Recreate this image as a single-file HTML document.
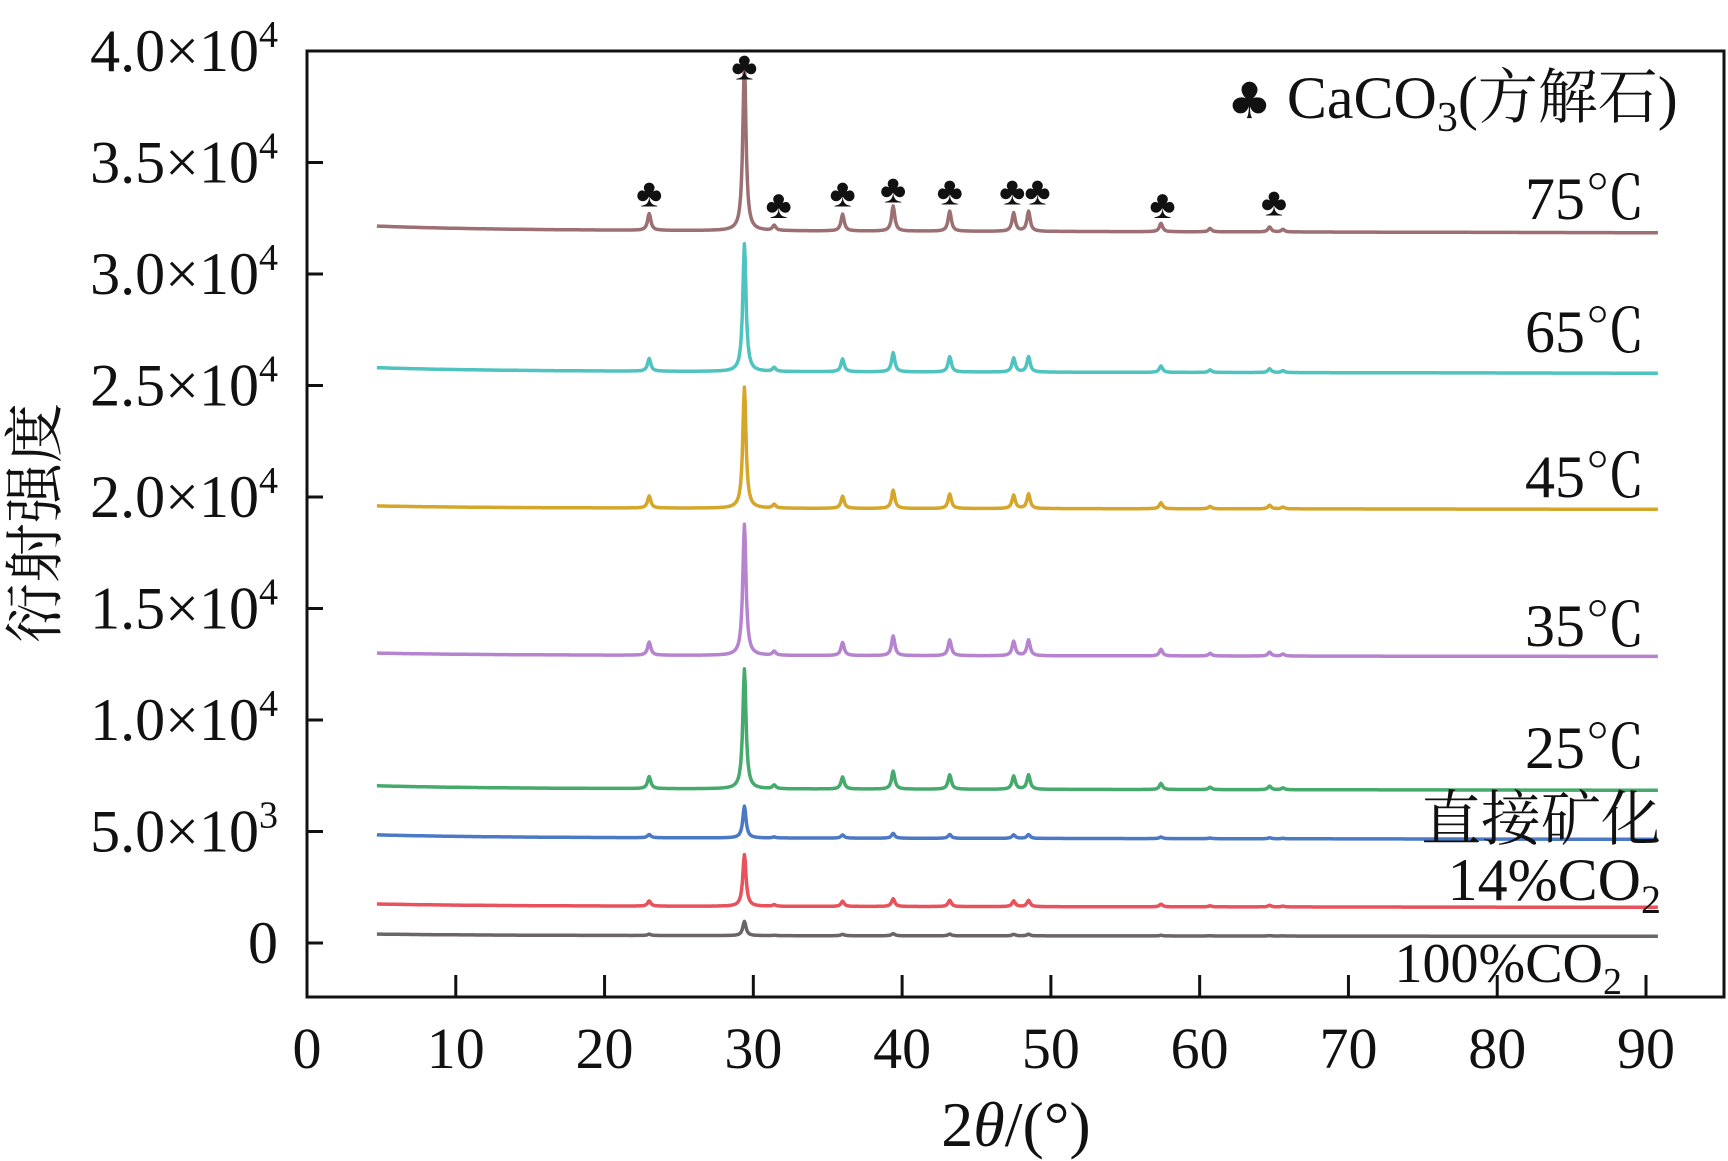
<!DOCTYPE html>
<html><head><meta charset="utf-8"><style>
body{margin:0;background:#fff;}
svg{display:block;}
text{font-family:"Liberation Serif","Noto Serif CJK SC",serif;fill:#111;}
</style></head><body>
<svg id="chart" width="1728" height="1161" viewBox="0 0 1728 1161" xmlns="http://www.w3.org/2000/svg">
<g id="axes"></g>
<g id="series"></g>
<g id="labels"></g>
</svg>
<script>
// ---- data ----
const seriesNames = ["75℃","65℃","45℃","35℃","25℃","直接矿化","14%CO2","100%CO2"];
const seriesColors = ["#9c6f72","#4ec3c0","#d6a62a","#b683cf","#45aa6c","#4c79c6","#e8525c","#6a6666"];
const baseStart = [32150,25800,19600,13000,7050,4850,1750,400];
const baseEnd = [31850,25550,19450,12850,6850,4650,1600,300];
const mainPeak = [7500,5730,5430,5880,5380,1430,2320,640];
const peakPos = [23.0,29.4,31.4,36.0,39.4,43.2,47.5,48.5,57.4,60.7,64.7,65.6];
const peakRel = [0.10,1.0,0.03,0.10,0.15,0.12,0.11,0.12,0.05,0.02,0.03,0.015];
const clubPos = [23.0,29.4,31.7,36.0,39.4,43.2,47.4,49.1,57.5,65.0];
const clubVal = [33600,39300,33100,33600,33800,33700,33700,33700,33100,33200];
const xTicks = [0,10,20,30,40,50,60,70,80,90];
const yTicks = [0,5000,10000,15000,20000,25000,30000,35000,40000];
const yTickLabels = ["0","5.0×10<tspan dy='-24' font-size='38'>3</tspan>","1.0×10<tspan dy='-24' font-size='38'>4</tspan>","1.5×10<tspan dy='-24' font-size='38'>4</tspan>","2.0×10<tspan dy='-24' font-size='38'>4</tspan>","2.5×10<tspan dy='-24' font-size='38'>4</tspan>","3.0×10<tspan dy='-24' font-size='38'>4</tspan>","3.5×10<tspan dy='-24' font-size='38'>4</tspan>","4.0×10<tspan dy='-24' font-size='38'>4</tspan>"];
// ---- scales ----
const L=307,T=51,R=1724,B=997;
const X=v=>307+v*(1646-307)/90;
const Y=v=>943-v*(943-51)/40000;
const NS="http://www.w3.org/2000/svg";
function mk(tag,attrs,parent){const e=document.createElementNS(NS,tag);for(const k in attrs)e.setAttribute(k,attrs[k]);parent.appendChild(e);return e;}
const axes=document.getElementById('axes'),sg=document.getElementById('series'),lg=document.getElementById('labels');
const frame=mk('rect',{x:L,y:T,width:R-L,height:B-T,fill:'none',stroke:'#111','stroke-width':3},axes);

xTicks.forEach(t=>{
  const l=mk('line',{x1:X(t),x2:X(t),y1:B,y2:B-22,stroke:'#111','stroke-width':3},axes);
  
  const tx=mk('text',{x:X(t),y:1068,'text-anchor':'middle','font-size':58},axes);tx.textContent=t;
  
});
yTicks.forEach((t,i)=>{
  const l=mk('line',{x1:L,x2:L+16,y1:Y(t),y2:Y(t),stroke:'#111','stroke-width':3},axes);
  
  const tx=mk('text',{x:278,y:Y(t)+20,'text-anchor':'end','font-size':60},axes);tx.innerHTML=yTickLabels[i];
  
});
// series
seriesNames.forEach((n,s)=>{
  let d='';
  for(let x=4.7;x<=90.8;x+=0.05){
    const f=(x-4.7)/86.1;
    let v=baseStart[s]+(baseEnd[s]-baseStart[s])*(1-Math.exp(-f*12))*0.6+(baseEnd[s]-baseStart[s])*0.4*f;
    peakPos.forEach((p,k)=>{const w=0.13;v+=mainPeak[s]*peakRel[k]/(1+((x-p)/w)**2);});
    d+=(d?'L':'M')+X(x).toFixed(1)+','+Y(v).toFixed(1);
  }
  const p=mk('path',{d:d,fill:'none',stroke:seriesColors[s],'stroke-width':3.5,'stroke-linejoin':'round'},sg);
  
});
clubPos.forEach((c,i)=>{
  const t=mk('text',{x:X(c),y:Y(clubVal[i])+13,'text-anchor':'middle','font-size':40,'font-family':'DejaVu Sans'},lg);t.textContent='♣';
  
});
</script>
<script>
const lab=document.getElementById('labels');
function addT(html,attrs,name){const e=document.createElementNS("http://www.w3.org/2000/svg",'text');for(const k in attrs)e.setAttribute(k,attrs[k]);e.innerHTML=html;


lab.appendChild(e);}
addT("75℃",{x:1645,y:219,'text-anchor':'end','font-size':60},'label-75c');
addT("65℃",{x:1645,y:352,'text-anchor':'end','font-size':60},'label-65c');
addT("45℃",{x:1645,y:497,'text-anchor':'end','font-size':60},'label-45c');
addT("35℃",{x:1645,y:646,'text-anchor':'end','font-size':60},'label-35c');
addT("25℃",{x:1645,y:768,'text-anchor':'end','font-size':60},'label-25c');
addT("直接矿化",{x:1661,y:840,'text-anchor':'end','font-size':60},'label-direct');
addT("14%CO<tspan dy='13' font-size='40'>2</tspan>",{x:1661,y:900,'text-anchor':'end','font-size':60},'label-14co2');
addT("100%CO<tspan dy='12' font-size='38'>2</tspan>",{x:1622,y:982,'text-anchor':'end','font-size':56},'label-100co2');
addT("<tspan font-family='DejaVu Sans' font-size='50'>♣</tspan> CaCO<tspan dy='13' font-size='42'>3</tspan><tspan dy='-13'>(方解石)</tspan>",{x:1227,y:118,'font-size':60},'legend-calcite');
addT("2<tspan font-style='italic'>θ</tspan>/(°)",{x:1016,y:1146,'text-anchor':'middle','font-size':64},'x-axis-title');
addT("衍射强度",{x:0,y:0,'text-anchor':'middle','font-size':60,transform:'translate(56,523) rotate(-90)'},'y-axis-title');
</script>
</body></html>
